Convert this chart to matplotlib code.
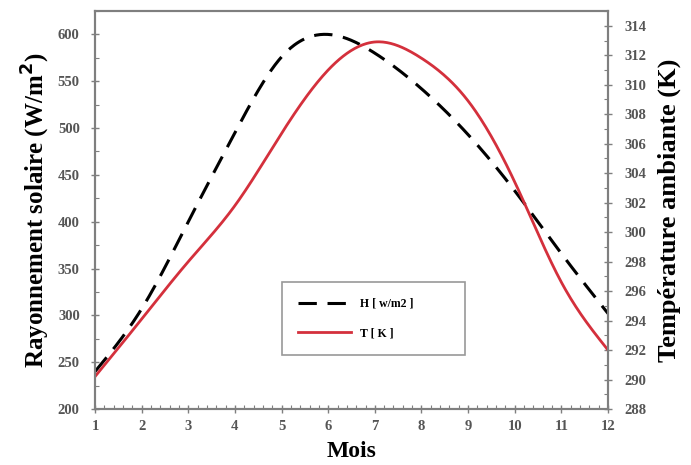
import numpy as np
import matplotlib
matplotlib.use("Agg")
import matplotlib.pyplot as plt
from matplotlib.ticker import MultipleLocator

months = [1, 2, 3, 4, 5, 6, 7, 8, 9, 10, 11, 12]
H_vals = [240, 307, 400, 495, 576, 600, 580, 542, 493, 433, 366, 302]
T_vals = [290.2, 294.1, 298.0, 301.8, 306.7, 311.0, 312.9, 311.8, 308.9, 303.4, 296.6, 292.0]

def natural_spline(x, y, n=400):
    x = np.asarray(x, float); y = np.asarray(y, float)
    k = len(x); h = np.diff(x)
    A = np.zeros((k, k)); b = np.zeros(k)
    A[0, 0] = A[-1, -1] = 1
    for i in range(1, k - 1):
        A[i, i - 1] = h[i - 1]; A[i, i] = 2 * (h[i - 1] + h[i]); A[i, i + 1] = h[i]
        b[i] = 3 * ((y[i + 1] - y[i]) / h[i] - (y[i] - y[i - 1]) / h[i - 1])
    c = np.linalg.solve(A, b)
    xs = np.linspace(x[0], x[-1], n); ys = np.empty_like(xs)
    for j, xv in enumerate(xs):
        i = min(np.searchsorted(x, xv, side='right') - 1, k - 2)
        d = xv - x[i]
        bb = (y[i + 1] - y[i]) / h[i] - h[i] * (2 * c[i] + c[i + 1]) / 3
        dd = (c[i + 1] - c[i]) / (3 * h[i])
        ys[j] = y[i] + bb * d + c[i] * d ** 2 + dd * d ** 3
    return xs, ys

plt.rcParams['font.family'] = ['Liberation Serif', 'DejaVu Serif']

fig = plt.figure(figsize=(6.91, 4.65), dpi=100)
ax = fig.add_axes([0.1375, 0.1204, 0.7424, 0.8559])
ax2 = ax.twinx()

xh, yh = natural_spline(months, H_vals)
xt, yt = natural_spline(months, T_vals)
l1, = ax.plot(xh, yh, color='black', lw=2.2, dashes=(6, 3.5), label='H [ w/m2 ]')
l2, = ax2.plot(xt, yt, color='#d4303c', lw=2.0, label='T [ K ]')

ax.set_xlim(1, 12)
ax.set_ylim(200, 625)
ax2.set_ylim(288, 315)
ax.set_xticks(months)
ax.set_yticks(range(200, 601, 50))
ax2.set_yticks(range(288, 315, 2))
ax.xaxis.set_minor_locator(MultipleLocator(0.2))
ax.yaxis.set_minor_locator(MultipleLocator(25))
ax2.yaxis.set_minor_locator(MultipleLocator(1))

gray = '#7f7f7f'
for a in (ax, ax2):
    for s in a.spines.values():
        s.set_color(gray); s.set_linewidth(1.5)
    a.tick_params(which='major', direction='inout', length=6, color=gray, width=1,
                  labelsize=10.5, labelcolor='#555555')
    a.tick_params(which='minor', direction='in', length=3, color=gray, width=0.8)
ax.tick_params(axis='y', which='major', pad=8)
ax2.tick_params(axis='y', which='major', pad=9)
ax.tick_params(axis='x', which='major', pad=5)
for lab in ax.get_xticklabels() + ax.get_yticklabels() + ax2.get_yticklabels():
    lab.set_fontweight('bold')

ax.set_xlabel('Mois', fontsize=17, fontweight='bold', labelpad=6)
ax.set_ylabel('Rayonnement solaire (W/m$^{\\mathbf{2}}$)', fontsize=18, fontweight='bold', labelpad=4)
ax2.set_ylabel('Température ambiante (K)', fontsize=19, fontweight='bold', labelpad=8)

leg = ax.legend(handles=[l1, l2], loc='lower left', bbox_to_anchor=(0.365, 0.136, 0.357, 0.181),
                mode='expand', borderaxespad=0, frameon=True, fancybox=False, handlelength=4.5,
                borderpad=1.3, labelspacing=1.5, prop={'weight': 'bold', 'size': 8.5})
leg.get_frame().set_edgecolor(gray)
leg.get_frame().set_linewidth(1.2)

fig.savefig('out.png', dpi=100)
